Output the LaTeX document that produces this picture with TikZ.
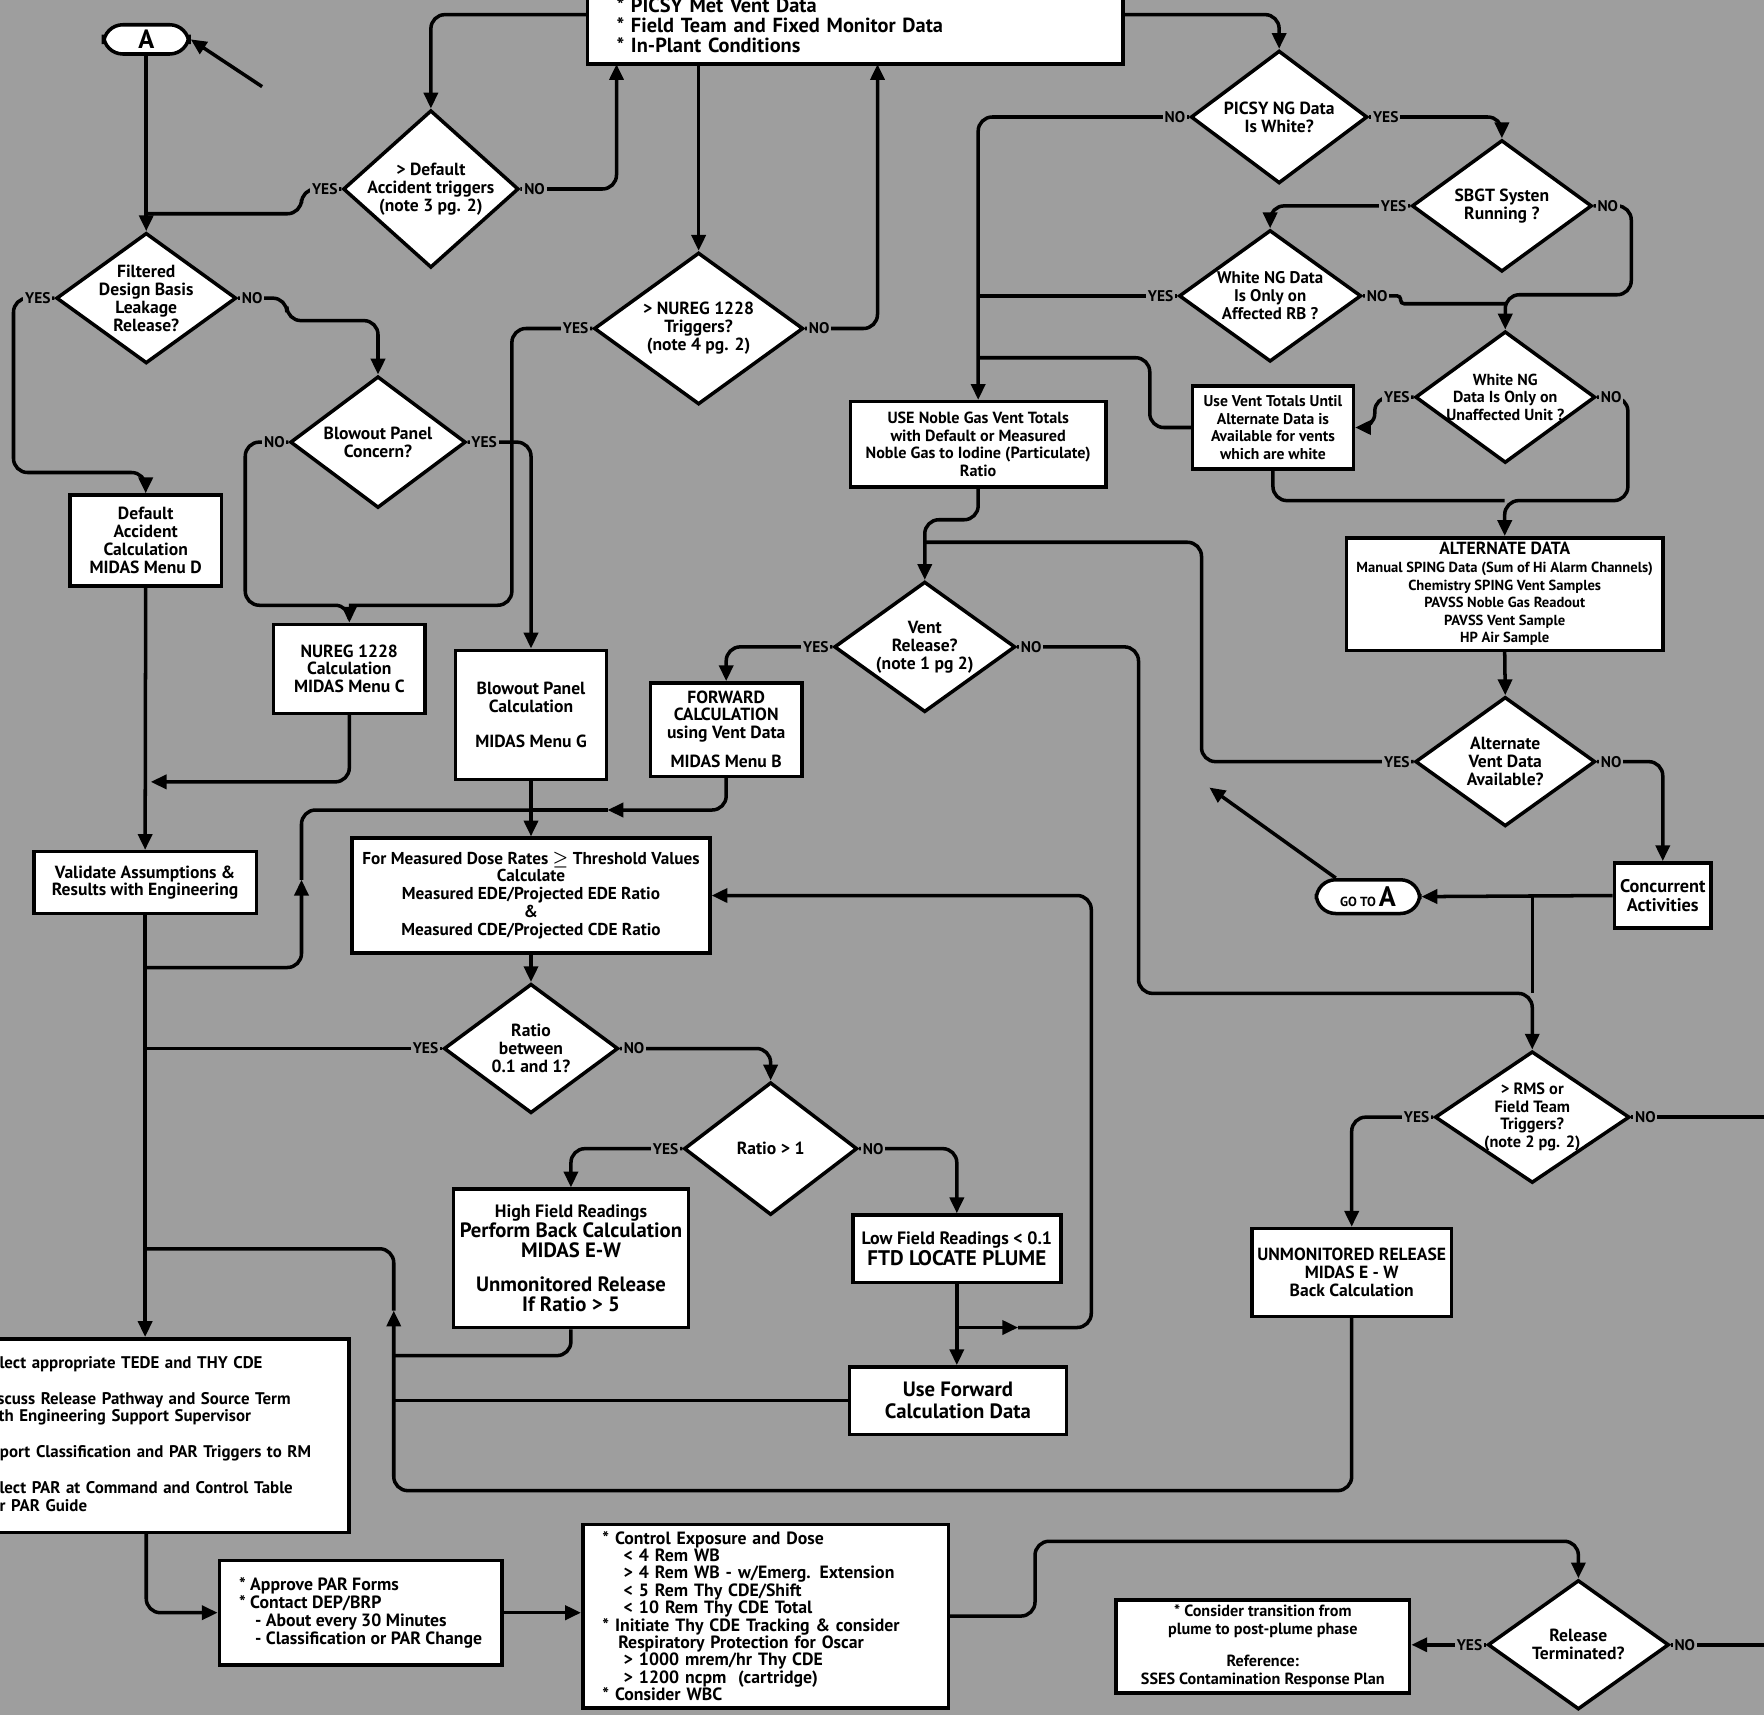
\documentclass[tikz,border=0pt]{standalone}
\usepackage{fontspec}
\setmainfont{PT Sans}
\usetikzlibrary{shapes.geometric,arrows.meta}
\newlength{\px}
\setlength{\px}{0.0225cm}
\definecolor{bg}{gray}{0.62}
\newcommand{\bigtxt}{\fontsize{11.8}{11.5}\selectfont}
\begin{document}
\begin{tikzpicture}[x=0.0225cm, y=-0.0225cm,
  >={Triangle[length=9pt,width=8pt]},
  flow/.style={draw, line width=2pt, rounded corners=8pt},
  sz/.style 2 args={minimum width=#1\px, minimum height=#2\px},
  box/.style={draw, line width=2pt, fill=white, inner sep=0pt, align=center,
    font=\fontsize{10}{10.2}\selectfont\bfseries},
  decision/.style={diamond, draw, line width=2pt, fill=white, inner sep=-14pt,
    align=center, font=\fontsize{10}{10.2}\selectfont\bfseries},
  term/.style={draw, line width=2pt, fill=white, rounded corners=11pt,
    inner sep=0pt, font=\bfseries},
  yn/.style={fill=bg, inner sep=1pt, font=\fontsize{8.8}{9}\selectfont\bfseries}]

\useasboundingbox (0,0) rectangle (1568,1524);
\fill[bg] (0,0) rectangle (1568,1524);
\clip (0,0) rectangle (1568,1524);

% Entree
\node[box, sz={476}{69}, text width=424\px, align=left,
  font=\fontsize{11.6}{11.5}\selectfont\bfseries] (info) at (760,22.5)
{{*} PICSY Met Vent Data\\{*} Field Team and Fixed Monitor Data\\{*} In-Plant Conditions};

\node[term, sz={76}{26}] (aterm) at (130,35)
{\fontsize{15}{15}\selectfont A};

% Colonne gauche
\node[decision, sz={160}{116}] (filt) at (130,265)
{Filtered\\Design Basis\\Leakage\\Release?};

\node[decision, sz={156}{140}] (deftrig) at (383,168)
{> Default\\Accident triggers\\(note 3 pg. 2)};

\node[decision, sz={156}{117}] (blowq) at (336,393)
{Blowout Panel\\Concern?};

\node[decision, sz={186}{135}] (nurtrig) at (621,292)
{> NUREG 1228\\Triggers?\\(note 4 pg. 2)};

\node[box, sz={135}{81}] (defcalc) at (129.5,480.5)
{Default\\Accident\\Calculation\\MIDAS Menu D};

\node[box, sz={135}{79}] (nurcalc) at (310.5,594.5)
{NUREG 1228\\Calculation\\MIDAS Menu C};

\node[box, sz={134}{115}] (blowcalc) at (472,635.5)
{Blowout Panel\\Calculation\\[10pt]MIDAS Menu G};

\node[box, sz={198}{55}] (validate) at (129,784.5)
{Validate Assumptions \&\\Results with Engineering};

% Gaz nobles
\node[decision, sz={157}{118}] (picsy) at (1137,104)
{PICSY NG Data\\Is White?};

\node[decision, sz={160}{117}] (sbgt) at (1335,183)
{SBGT Systen\\Running ?};

\node[decision, sz={162}{117}, font=\fontsize{9.6}{10.2}\selectfont\bfseries] (rbq) at (1129,263)
{White NG Data\\Is Only on\\Affected RB ?};

\node[decision, sz={160}{117}, font=\fontsize{9.1}{10}\selectfont\bfseries] (unafq) at (1338,353)
{White NG\\Data Is Only on\\Unaffected Unit ?};

\node[box, sz={227}{76}, font=\fontsize{9.2}{10}\selectfont\bfseries] (usenoble) at (869.5,395)
{USE Noble Gas Vent Totals\\with Default or Measured\\Noble Gas to Iodine (Particulate)\\Ratio};

\node[box, sz={143}{74}, font=\fontsize{8.9}{10}\selectfont\bfseries] (ventot) at (1131.5,380)
{Use Vent Totals Until\\Alternate Data is\\Available for vents\\which are white};

\node[box, sz={281}{100}, font=\fontsize{8.3}{10}\selectfont\bfseries] (altdata) at (1337.5,528)
{{\fontsize{10}{10}\selectfont ALTERNATE DATA}\\Manual SPING Data (Sum of Hi Alarm Channels)\\Chemistry SPING Vent Samples\\PAVSS Noble Gas Readout\\PAVSS Vent Sample\\HP Air Sample};

\node[decision, sz={160}{115}] (altq) at (1338,677)
{Alternate\\Vent Data\\Available?};

\node[box, sz={86}{58}, font=\fontsize{10.4}{10.5}\selectfont\bfseries] (concur) at (1478,796)
{Concurrent\\Activities};

\node[term, sz={92}{30}] (gotoa) at (1216,797)
{{\fontsize{7.5}{8}\selectfont GO TO}\,{\fontsize{16}{16}\selectfont A}};

% Rejet par la cheminee
\node[decision, sz={161}{116}] (ventq) at (822,575)
{Vent\\Release?\\(note 1 pg 2)};

\node[box, sz={135}{83}, font=\fontsize{10}{9.9}\selectfont\bfseries] (fwdcalc) at (645.5,648.5)
{FORWARD\\CALCULATION\\using Vent Data\\[7pt]MIDAS Menu B};

\node[box, sz={318}{102}, font=\fontsize{9.8}{10.2}\selectfont\bfseries] (formeas) at (472,796)
{For Measured Dose Rates {\boldmath$\geq$} Threshold Values\\Calculate\\Measured EDE/Projected EDE Ratio\\\&\\Measured CDE/Projected CDE Ratio};

\node[decision, sz={155}{115}] (ratioq) at (472,932)
{Ratio\\between\\0.1 and 1?};

\node[decision, sz={154}{118}] (ratio1) at (685,1021)
{Ratio > 1};

\node[box, sz={209}{123}, font=\bigtxt\bfseries] (highf) at (507.5,1118.5)
{{\fontsize{10.2}{10}\selectfont High Field Readings}\\Perform Back Calculation\\MIDAS E-W\\[8pt]Unmonitored Release\\If Ratio > 5};

\node[box, sz={185}{60}, font=\fontsize{12}{12}\selectfont\bfseries] (lowf) at (850.5,1110)
{{\fontsize{10.2}{10}\selectfont Low Field Readings < 0.1}\\FTD LOCATE PLUME};

\node[box, sz={193}{60}, font=\fontsize{11.8}{12.5}\selectfont\bfseries] (usefwd) at (851.5,1245)
{Use Forward\\Calculation Data};

\node[decision, sz={173}{117}, font=\fontsize{9.3}{10}\selectfont\bfseries] (rmsq) at (1362,993)
{> RMS or\\Field Team\\Triggers?\\(note 2 pg. 2)};

\node[box, sz={177}{78}] (unmon) at (1201.5,1131)
{UNMONITORED RELEASE\\MIDAS E - W\\Back Calculation};

% Actions
\node[box, sz={350}{172}, text width=302\px, align=left,
  font=\fontsize{9.6}{10.2}\selectfont\bfseries] (select) at (135,1276)
{Select appropriate TEDE and THY CDE\\[10.2pt]Discuss Release Pathway and Source Term\\with Engineering Support Supervisor\\[10.2pt]Report Classification and PAR Triggers to RM\\[10.2pt]Select PAR at Command and Control Table\\per PAR Guide};

\node[box, sz={251}{93}, align=left, font=\fontsize{10.1}{10.2}\selectfont\bfseries] (approve) at (320.5,1433.5)
{{*} Approve PAR Forms\\{*} Contact DEP/BRP\\\hspace*{0.9em}- About every 30 Minutes\\\hspace*{0.9em}- Classification or PAR Change};

\node[box, sz={325}{163}, text width=290\px, align=left, font=\fontsize{10.1}{9.9}\selectfont\bfseries] (control) at (680.5,1436.5)
{{*} Control Exposure and Dose\\
\hspace*{1.2em}< 4 Rem WB\\
\hspace*{1.2em}> 4 Rem WB - w/Emerg. Extension\\
\hspace*{1.2em}< 5 Rem Thy CDE/Shift\\
\hspace*{1.2em}< 10 Rem Thy CDE Total\\
{*} Initiate Thy CDE Tracking \& consider\\
\hspace*{0.9em}Respiratory Protection for Oscar\\
\hspace*{1.2em}> 1000 mrem/hr Thy CDE\\
\hspace*{1.2em}> 1200 ncpm\ \ (cartridge)\\
{*} Consider WBC};

\node[decision, sz={161}{115}] (relterm) at (1403,1462)
{Release\\Terminated?};

\node[box, sz={261}{83}, font=\fontsize{9.2}{10.2}\selectfont\bfseries] (consider) at (1122.5,1463.5)
{{*} Consider transition from\\plume to post-plume phase\\[8pt]Reference:\\SSES Contamination Response Plan};

% Points libres
\coordinate (infoW) at (522,13);
\coordinate (infoE) at (998,13);
\coordinate (infoL) at (548,57);
\coordinate (infoM) at (621,57);
\coordinate (infoR) at (780,57);
\coordinate (aTail) at (233,77);
\coordinate (goTip) at (1075,700);
\coordinate (fb) at (850.5,1180);
\coordinate (selB) at (130,1362);

% Liaisons du haut
\draw[flow,->] (infoW) -| (deftrig.north);
\draw[flow,->] (infoE) -| (picsy.north);
\draw[flow,->] (deftrig.east) -| (infoL);
\draw[flow,->] (infoM) -- (nurtrig.north);
\draw[flow,->] (nurtrig.east) -| (infoR);

% Liaisons a gauche
\draw[flow,->] (aTail) -- (aterm.east);
\draw[flow,->] (aterm.south) -- (filt.north);
\draw[flow] (deftrig.west) -| (268,190) -- (130,190);
\draw[flow,->] (filt.west) -| (12,420) -| (defcalc.north);
\draw[flow,->] (filt.east) -| (255,285) -| (blowq.north);
\draw[flow,->] (blowq.west) -| (218,538) -| (nurcalc.north);
\draw[flow] (nurtrig.west) -| (455,538) -- (310,538);
\draw[flow,->] (blowq.east) -| (blowcalc.north);
\draw[flow,->] (defcalc.south) -- (validate.north);
\draw[flow,->] (nurcalc.south) |- (134,695);
\draw[flow,->] (blowcalc.south) -- (formeas.north);
\draw[flow,->] (fwdcalc.south) |- (540,720);
\draw[flow] (540,720) -- (472,720);
\draw[flow,->] (130,860) -| (268,782);
\draw[flow] (268,782) |- (472,720);
\draw[flow,->] (validate.south) -- (validate.south |- select.north);
\draw[flow] (ratioq.west) -- (130,932);

% Rapports de dose
\draw[flow,->] (formeas.south) -- (ratioq.north);
\draw[flow,->] (ratioq.east) -| (ratio1.north);
\draw[flow,->] (ratio1.west) -| (highf.north);
\draw[flow,->] (ratio1.east) -| (lowf.north);
\draw[flow,->] (lowf.south) -- (lowf.south |- usefwd.north);
\draw[flow,->] (fb) -- (905,1180);
\draw[flow,->] (905,1180) -| (970,796) -- (formeas.east);
\draw[flow] (highf.south) |- (350,1205);
\draw[flow] (usefwd.west) -- (350,1245);
\draw[flow,->] (unmon.south) |- (350,1325) -- (350,1165);
\draw[flow] (350,1165) |- (130,1110);

% Liaisons du bas
\draw[flow,->] (selB) |- (approve.west);
\draw[flow,->] (approve.east) -- (approve.east -| control.west);
\draw[flow,->] (control.east) -| (920,1370) -| (relterm.north);
\draw[flow,->] (relterm.west) -- (relterm.west -| consider.east);
\draw[flow] (relterm.east) -- (1575,1462);

% Liaisons a droite
\draw[flow,->] (rmsq.west) -| (unmon.north);
\draw[flow] (rmsq.east) -- (1575,993);
\draw[flow,->] (ventq.west) -| (fwdcalc.north);
\draw[flow,->] (ventq.east) -| (1012,883) -| (rmsq.north);
\draw[flow] (1362,796) -- (1362,883);
\draw[flow,->] (concur.west) -- (gotoa.east);
\draw[flow,->] (gotoa.150) -- (goTip);
\draw[flow,->] (altdata.south) -- (altq.north);
\draw[flow] (altq.west) -| (1068,482) -- (822,482);
\draw[flow,->] (usenoble.south) -- (869.5,462) -| (ventq.north);
\draw[flow,->] (altq.east) -| (concur.north);
\draw[flow,->] (picsy.west) -| (usenoble.north);
\draw[flow,->] (picsy.east) -| (sbgt.north);
\draw[flow,->] (sbgt.west) -| (rbq.north);
\draw[flow,->] (sbgt.east) -| (1450,262) -| (unafq.north);
\draw[flow] (rbq.west) -- (869.5,263);
\draw[flow, rounded corners=2pt] (rbq.east) -| (1245,270) -- (1338,270);
\draw[flow] (ventot.west) -| (1022,318) -- (869.5,318);
\draw[flow,->] (unafq.west) -| (1222,380) -- (ventot.east);
\draw[flow,->] (unafq.east) -| (1447,445) -| (altdata.north);
\draw[flow] (ventot.south) |- (1337.5,445);

% Reponses
\foreach \d/\l/\r in {filt/YES/NO, deftrig/YES/NO, blowq/NO/YES, nurtrig/YES/NO,
  picsy/NO/YES, sbgt/YES/NO, rbq/YES/NO, unafq/YES/NO, altq/YES/NO,
  ventq/YES/NO, ratioq/YES/NO, ratio1/YES/NO, rmsq/YES/NO, relterm/YES/NO}
{
    \node[yn, anchor=east] (\d-w) at ([xshift=-1pt]\d.west) {\l};
    \node[yn, anchor=west] (\d-e) at ([xshift=1pt]\d.east) {\r};
}

\end{tikzpicture}
\end{document}
